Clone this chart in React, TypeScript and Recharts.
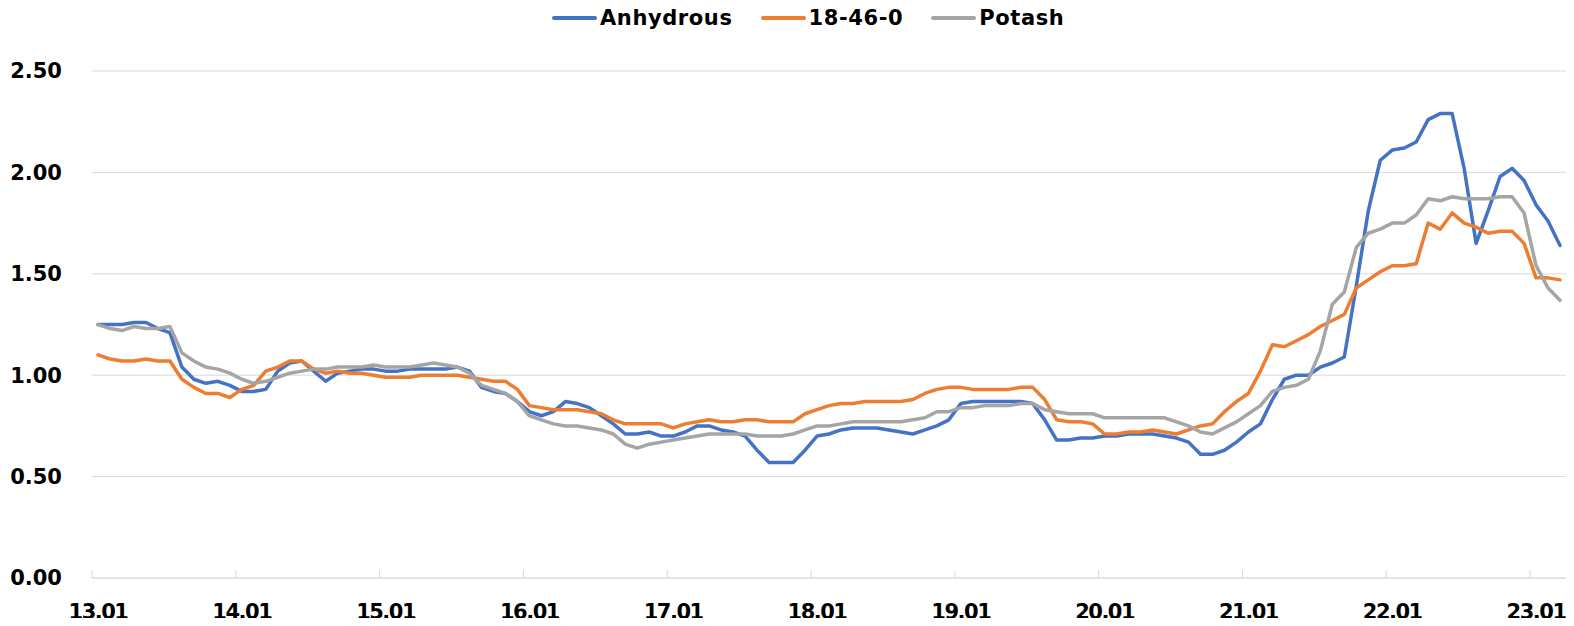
import { LineChart, Line, XAxis, YAxis, CartesianGrid } from "recharts";

// monthly prices, Jan 2013 .. Mar 2023
const ANHYDROUS = [
  1.25, 1.25, 1.25, 1.26, 1.26, 1.23, 1.21, 1.04, 0.98, 0.96, 0.97, 0.95,
  0.92, 0.92, 0.93, 1.02, 1.06, 1.07, 1.02, 0.97, 1.01, 1.02, 1.03, 1.03,
  1.02, 1.02, 1.03, 1.03, 1.03, 1.03, 1.04, 1.02, 0.94, 0.92, 0.91, 0.87,
  0.82, 0.80, 0.82, 0.87, 0.86, 0.84, 0.80, 0.76, 0.71, 0.71, 0.72, 0.70,
  0.70, 0.72, 0.75, 0.75, 0.73, 0.72, 0.70, 0.63, 0.57, 0.57, 0.57, 0.63,
  0.70, 0.71, 0.73, 0.74, 0.74, 0.74, 0.73, 0.72, 0.71, 0.73, 0.75, 0.78,
  0.86, 0.87, 0.87, 0.87, 0.87, 0.87, 0.86, 0.78, 0.68, 0.68, 0.69, 0.69,
  0.70, 0.70, 0.71, 0.71, 0.71, 0.70, 0.69, 0.67, 0.61, 0.61, 0.63, 0.67,
  0.72, 0.76, 0.88, 0.98, 1.00, 1.00, 1.04, 1.06, 1.09, 1.44, 1.81, 2.06,
  2.11, 2.12, 2.15, 2.26, 2.29, 2.29, 2.02, 1.65, 1.81, 1.98, 2.02, 1.96,
  1.84, 1.76, 1.64,
];

const DAP = [
  1.10, 1.08, 1.07, 1.07, 1.08, 1.07, 1.07, 0.98, 0.94, 0.91, 0.91, 0.89,
  0.93, 0.95, 1.02, 1.04, 1.07, 1.07, 1.03, 1.01, 1.02, 1.01, 1.01, 1.00,
  0.99, 0.99, 0.99, 1.00, 1.00, 1.00, 1.00, 0.99, 0.98, 0.97, 0.97, 0.93,
  0.85, 0.84, 0.83, 0.83, 0.83, 0.82, 0.81, 0.78, 0.76, 0.76, 0.76, 0.76,
  0.74, 0.76, 0.77, 0.78, 0.77, 0.77, 0.78, 0.78, 0.77, 0.77, 0.77, 0.81,
  0.83, 0.85, 0.86, 0.86, 0.87, 0.87, 0.87, 0.87, 0.88, 0.91, 0.93, 0.94,
  0.94, 0.93, 0.93, 0.93, 0.93, 0.94, 0.94, 0.88, 0.78, 0.77, 0.77, 0.76,
  0.71, 0.71, 0.72, 0.72, 0.73, 0.72, 0.71, 0.73, 0.75, 0.76, 0.82, 0.87,
  0.91, 1.02, 1.15, 1.14, 1.17, 1.20, 1.24, 1.27, 1.30, 1.43, 1.47, 1.51,
  1.54, 1.54, 1.55, 1.75, 1.72, 1.80, 1.75, 1.73, 1.70, 1.71, 1.71, 1.65,
  1.48, 1.48, 1.47,
];

const POTASH = [
  1.25, 1.23, 1.22, 1.24, 1.23, 1.23, 1.24, 1.11, 1.07, 1.04, 1.03, 1.01,
  0.98, 0.96, 0.97, 0.99, 1.01, 1.02, 1.03, 1.03, 1.04, 1.04, 1.04, 1.05,
  1.04, 1.04, 1.04, 1.05, 1.06, 1.05, 1.04, 1.01, 0.95, 0.93, 0.91, 0.87,
  0.80, 0.78, 0.76, 0.75, 0.75, 0.74, 0.73, 0.71, 0.66, 0.64, 0.66, 0.67,
  0.68, 0.69, 0.70, 0.71, 0.71, 0.71, 0.71, 0.70, 0.70, 0.70, 0.71, 0.73,
  0.75, 0.75, 0.76, 0.77, 0.77, 0.77, 0.77, 0.77, 0.78, 0.79, 0.82, 0.82,
  0.84, 0.84, 0.85, 0.85, 0.85, 0.86, 0.86, 0.83, 0.82, 0.81, 0.81, 0.81,
  0.79, 0.79, 0.79, 0.79, 0.79, 0.79, 0.77, 0.75, 0.72, 0.71, 0.74, 0.77,
  0.81, 0.85, 0.92, 0.94, 0.95, 0.98, 1.12, 1.35, 1.41, 1.63, 1.70, 1.72,
  1.75, 1.75, 1.79, 1.87, 1.86, 1.88, 1.87, 1.87, 1.87, 1.88, 1.88, 1.80,
  1.54, 1.43, 1.37,
];

const TICK_LABELS = ["13.01", "14.01", "15.01", "16.01", "17.01", "18.01", "19.01", "20.01", "21.01", "22.01", "23.01"];
const Y_TICKS = [0, 0.5, 1, 1.5, 2, 2.5];

const SERIES = [
  { key: "anhydrous", name: "Anhydrous", color: "#4472C4" },
  { key: "dap", name: "18-46-0", color: "#ED7D31" },
  { key: "potash", name: "Potash", color: "#A5A5A5" },
];

const FONT = "'DejaVu Sans', 'Liberation Sans', sans-serif";

const data = ANHYDROUS.map((v, i) => ({
  idx: i,
  month: `${13 + Math.floor(i / 12)}.${String((i % 12) + 1).padStart(2, "0")}`,
  anhydrous: v,
  dap: DAP[i],
  potash: POTASH[i],
}));

// ticks sit on category boundaries, labels in the middle of the category
const xTicks = TICK_LABELS.map((_, k) => k * 12 - 0.5);

function MonthTick({ x, y, payload }: any) {
  const k = Math.round((payload.value + 0.5) / 12);
  return (
    <g>
      <line x1={x} x2={x} y1={y - 8} y2={y} stroke="#D9D9D9" strokeWidth={1} />
      <text
        x={x + 6}
        y={y + 41}
        textAnchor="middle"
        fontFamily={FONT}
        fontWeight="bold"
        fontSize={21}
        letterSpacing={-1.5}
        fill="#000"
      >
        {TICK_LABELS[k]}
      </text>
    </g>
  );
}

function TopLegend() {
  return (
    <div
      style={{
        position: "absolute",
        top: 0,
        left: 544,
        height: 19,
        display: "flex",
        alignItems: "center",
        fontFamily: FONT,
        fontWeight: "bold",
        fontSize: 21,
        letterSpacing: 0.6,
        color: "#000",
      }}
    >
      {SERIES.map((s) => (
        <div key={s.key} style={{ display: "flex", alignItems: "center", marginRight: 28 }}>
          <div style={{ width: 45, height: 4, borderRadius: 2, background: s.color, marginRight: 3 }} />
          <span>{s.name}</span>
        </div>
      ))}
    </div>
  );
}

export default function App() {
  return (
    <div style={{ position: "relative", width: 1558, height: 610, fontFamily: FONT }}>
      <style>{`.recharts-surface { overflow: visible; }`}</style>
      <TopLegend />
      <LineChart width={1558} height={610} data={data} margin={{ top: 63, right: 0, bottom: 0, left: 14 }}>
        <CartesianGrid vertical={false} stroke="#D9D9D9" strokeWidth={1} />
        <XAxis
          dataKey="idx"
          type="number"
          domain={[-0.5, 122.5]}
          ticks={xTicks}
          interval={0}
          height={40}
          axisLine={{ stroke: "#D9D9D9", strokeWidth: 1 }}
          tickLine={false}
          tickSize={0}
          tickMargin={0}
          tick={<MonthTick />}
        />
        <YAxis
          domain={[0, 2.5]}
          ticks={Y_TICKS}
          width={70}
          axisLine={false}
          tickLine={false}
          tickSize={0}
          tickMargin={30}
          tickFormatter={(v: number) => v.toFixed(2)}
          tick={{ fontFamily: FONT, fontWeight: "bold", fontSize: 21, fill: "#000" }}
        />
        {SERIES.map((s) => (
          <Line
            key={s.key}
            type="linear"
            dataKey={s.key}
            name={s.name}
            stroke={s.color}
            strokeWidth={3.5}
            strokeLinejoin="round"
            strokeLinecap="round"
            dot={false}
            isAnimationActive={false}
          />
        ))}
      </LineChart>
    </div>
  );
}
